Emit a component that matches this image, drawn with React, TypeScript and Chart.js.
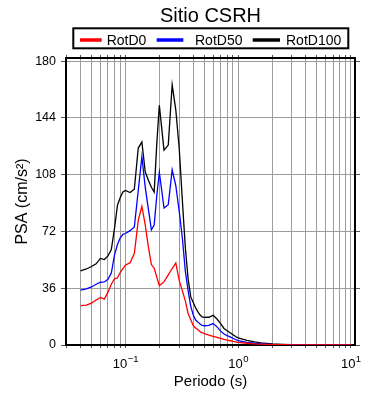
import React, { useEffect, useRef } from "react";
import { Chart, registerables } from "chart.js";

Chart.register(...registerables);

const titleText = "Sitio CSRH";
const xTitle = "Periodo (s)";
const yTitle = "PSA (cm/s²)";
const seriesNames = ["RotD0", "RotD50", "RotD100"];
const seriesColors = ["#ff0000", "#0000ff", "#000000"];

const periods = [
  0.04, 0.045, 0.05, 0.055, 0.06, 0.065, 0.07, 0.075, 0.08, 0.085, 0.09, 0.095,
  0.1, 0.11, 0.12, 0.13, 0.14, 0.15, 0.16, 0.17, 0.18, 0.19, 0.2, 0.22, 0.24,
  0.26, 0.28, 0.3, 0.32, 0.34, 0.36, 0.38, 0.4, 0.42, 0.44, 0.46, 0.48, 0.5,
  0.55, 0.6, 0.65, 0.7, 0.75, 0.8, 0.85, 0.9, 0.95, 1.0, 1.2, 1.4, 1.6, 1.8,
  2.0, 2.5, 3, 4, 5, 6, 7, 8, 9, 10,
];

const rotD0 = [
  25, 25.3, 26.6, 28.5, 30.2, 29.1, 33.5, 38.5, 42, 42.6, 46, 48.5,
  50.6, 52.2, 58, 79, 88, 76, 62, 51, 48.7, 43, 37.7, 40, 44.5,
  48.5, 52, 41, 34.5, 28, 20, 16, 12.3, 10.8, 9.6, 8.5, 7.8, 7.2,
  6.3, 5.5, 4.8, 4.2, 3.6, 3.1, 2.7, 2.3, 2.0, 1.7, 1.1, 0.75, 0.55, 0.4,
  0.3, 0.2, 0.13, 0.08, 0.05, 0.04, 0.03, 0.02, 0.02, 0.015,
];

const rotD50 = [
  34.8, 35.6, 36.8, 38.5, 39.8, 40, 41.6, 45.6, 57, 63.7, 68, 70.2,
  70.7, 72.5, 74.8, 98, 119.4, 100, 86, 73, 76, 95, 109.6, 86.8, 89,
  111, 101, 85, 68, 47, 34.6, 24.5, 19, 15.8, 14.5, 13.3, 12.5, 12.2,
  12.4, 13.6, 11.5, 8.8, 7, 6, 5.2, 4.3, 3.5, 2.8, 1.7, 1.1, 0.8, 0.6,
  0.45, 0.3, 0.2, 0.12, 0.08, 0.06, 0.04, 0.03, 0.02, 0.02,
];

const rotD100 = [
  47, 48.2, 49.8, 51.5, 54.9, 54.2, 56.5, 60.5, 74, 88.6, 93.5, 97,
  98, 96.7, 98.8, 124.9, 128.7, 109.7, 104.5, 100, 97, 128, 152, 123.6, 126.8,
  165, 149, 125, 92, 62, 42, 30.5, 27, 23.5, 21, 19, 17.8, 17.5,
  17.6, 18.8, 16.5, 13.5, 10.5, 9, 7.8, 6.5, 5.4, 4.5, 2.9, 2, 1.4, 1.0,
  0.7, 0.45, 0.3, 0.18, 0.12, 0.09, 0.07, 0.05, 0.04, 0.03,
];

const seriesValues = [rotD0, rotD50, rotD100];

const yTicks = [0, 36, 72, 108, 144, 180];
const xLabelDecades = [-1, 0, 1];
const xMin = 0.0297;
const xMax = 10.9;
const yMin = 0;
const yMax = 182;

const FONT = '"Liberation Sans", Arial, Helvetica, sans-serif';
const GRID = "#9c9c9c";

function logMinorTicks(min: number, max: number) {
  const out: { value: number }[] = [];
  for (let d = -3; d <= 2; d++) {
    for (let m = 1; m <= 9; m++) {
      const v = m * Math.pow(10, d);
      if (v >= min * 0.999 && v <= max * 1.001) out.push({ value: v });
    }
  }
  return out;
}

const decorPlugin = {
  id: "decor",
  afterDraw(chart: any) {
    const { ctx, chartArea: ca, scales } = chart;
    ctx.save();
    // Title
    ctx.fillStyle = "#000";
    ctx.font = `20px ${FONT}`;
    ctx.textAlign = "center";
    ctx.textBaseline = "alphabetic";
    ctx.fillText(titleText, (ca.left + ca.right) / 2, 21.5);

    // Legend box
    const bx = ca.left + 7.3;
    const by = 28.3;
    const bw = 275;
    const bh = 20;
    ctx.lineWidth = 2;
    ctx.strokeStyle = "#000";
    ctx.strokeRect(bx, by, bw, bh);
    const lineStarts = [6.7, 83.4, 179.4];
    const lineEnds = [28.4, 110, 206.7];
    const textStarts = [33.4, 121.7, 212.7];
    ctx.font = `14px ${FONT}`;
    ctx.textAlign = "left";
    for (let i = 0; i < seriesNames.length; i++) {
      ctx.strokeStyle = seriesColors[i];
      ctx.lineWidth = 3.5;
      ctx.beginPath();
      ctx.moveTo(bx + lineStarts[i], 40);
      ctx.lineTo(bx + lineEnds[i], 40);
      ctx.stroke();
      ctx.fillStyle = "#000";
      ctx.fillText(seriesNames[i], bx + textStarts[i], 44.5);
    }

    // X tick labels with superscript exponents
    const xs = scales.x;
    for (const d of xLabelDecades) {
      const px = xs.getPixelForValue(Math.pow(10, d));
      const base = "10";
      const exp = d < 0 ? "\u2212" + Math.abs(d) : String(d);
      ctx.font = `13px ${FONT}`;
      const wb = ctx.measureText(base).width;
      ctx.font = `9.5px ${FONT}`;
      const we = ctx.measureText(exp).width;
      const start = px - (wb + we) / 2;
      ctx.fillStyle = "#000";
      ctx.textAlign = "left";
      ctx.font = `13px ${FONT}`;
      ctx.fillText(base, start, 367.5);
      ctx.font = `9.5px ${FONT}`;
      ctx.fillText(exp, start + wb + 0.5, 362);
    }
    ctx.restore();
  },
};

export default function App() {
  const canvasRef = useRef<HTMLCanvasElement | null>(null);

  useEffect(() => {
    if (!canvasRef.current) return;
    const datasets = seriesValues.map((vals, i) => ({
      label: seriesNames[i],
      data: periods.map((p, j) => ({ x: p, y: vals[j] })),
      borderColor: seriesColors[i],
      backgroundColor: seriesColors[i],
      borderWidth: 1.3,
      pointRadius: 0,
      tension: 0,
      fill: false,
    }));

    const yTickFn = (scale: any) => {
      scale.ticks = yTicks.map((v) => ({ value: v }));
    };

    const chart = new Chart(canvasRef.current, {
      type: "line",
      data: { datasets },
      plugins: [decorPlugin],
      options: {
        animation: false,
        responsive: false,
        layout: { padding: { top: 58, right: 35, left: 0, bottom: 0 } },
        plugins: {
          legend: { display: false },
          title: { display: false },
          tooltip: { enabled: false },
        },
        scales: {
          x: {
            type: "logarithmic",
            position: "bottom",
            min: xMin,
            max: xMax,
            afterBuildTicks: (scale: any) => {
              scale.ticks = logMinorTicks(xMin, xMax);
            },
            afterFit: (scale: any) => {
              scale.height = 55;
            },
            ticks: { display: false },
            grid: {
              color: GRID,
              lineWidth: 1,
              tickLength: 3,
              tickColor: "#555",
            },
            border: { display: true, color: "#000", width: 2 },
            title: {
              display: true,
              text: xTitle,
              color: "#000",
              font: { family: FONT, size: 15 },
              padding: { top: 0, bottom: 9.5 },
            },
          },
          x2: {
            type: "logarithmic",
            position: "top",
            min: xMin,
            max: xMax,
            afterBuildTicks: (scale: any) => {
              scale.ticks = logMinorTicks(xMin, xMax);
            },
            afterFit: (scale: any) => {
              scale.height = 0;
            },
            ticks: { display: false },
            grid: {
              drawOnChartArea: false,
              tickLength: 3,
              tickColor: "#555",
            },
            border: { display: true, color: "#000", width: 2 },
          },
          y: {
            type: "linear",
            position: "left",
            min: yMin,
            max: yMax,
            afterBuildTicks: yTickFn,
            afterFit: (scale: any) => {
              scale.width = 66;
            },
            ticks: {
              color: "#000",
              font: { family: FONT, size: 12.5 },
              padding: 5,
            },
            grid: {
              color: GRID,
              lineWidth: 1,
              tickLength: 5,
              tickColor: "#555",
            },
            border: { display: true, color: "#000", width: 2 },
            title: {
              display: true,
              text: yTitle,
              color: "#000",
              font: { family: FONT, size: 16 },
              padding: { top: 13, bottom: 0 },
            },
          },
          y2: {
            type: "linear",
            position: "right",
            min: yMin,
            max: yMax,
            afterBuildTicks: yTickFn,
            afterFit: (scale: any) => {
              scale.width = 0;
            },
            ticks: { display: false },
            grid: {
              drawOnChartArea: false,
              tickLength: 5,
              tickColor: "#555",
            },
            border: { display: true, color: "#000", width: 2 },
          },
        },
      },
    } as any);

    return () => {
      chart.destroy();
    };
  }, []);

  return (
    <div
      style={{
        position: "fixed",
        left: 0,
        top: 0,
        width: 390,
        height: 400,
        background: "#fff",
      }}
    >
      <canvas
        ref={canvasRef}
        width={390}
        height={400}
        style={{ display: "block", width: 390, height: 400 }}
      />
    </div>
  );
}
